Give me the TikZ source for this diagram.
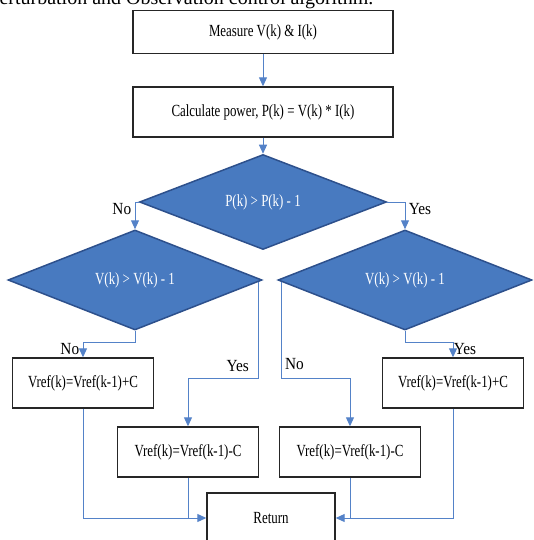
\documentclass[tikz,border=0pt]{standalone}
\usepackage{fontspec}
\setmainfont{Liberation Serif}
\newfontfamily\narrowserif[FakeStretch=0.76]{Liberation Serif}
\newfontfamily\labelserif[FakeStretch=0.9]{Liberation Serif}
\usepackage{xcolor}
\usetikzlibrary{shapes,arrows.meta}
\definecolor{flowblue}{RGB}{84,130,200}
\definecolor{diafill}{RGB}{72,122,192}
\definecolor{diaedge}{RGB}{45,80,140}

\begin{document}
\begin{tikzpicture}[x=1pt,y=-1pt,->,>={Triangle[length=9pt,width=8pt]},line width=1pt,
    box/.style={draw=black!85,line width=1.4pt,fill=white,minimum height=50pt,inner sep=2pt,
        font=\narrowserif\fontsize{17}{20}\selectfont},
    decision/.style={diamond,draw=diaedge,line width=1.5pt,fill=diafill,text=white,inner sep=0pt,
        font=\narrowserif\fontsize{17}{20}\selectfont}]
    \useasboundingbox (0,0) rectangle (533,540);
    \clip (0,0) rectangle (533,540);
    \node[anchor=base west,inner sep=0pt,font=\fontsize{20}{24}\selectfont] (caption) at (-1,5)
        {erturbation and Observation control algorithm.};
    \node[box,minimum width=260pt,minimum height=43pt] (measure) at (263,32) {Measure V(k) \& I(k)};
    \node[box,minimum width=260pt] (power) at (263,112) {Calculate power, P(k) = V(k) * I(k)};
    \node[decision,minimum width=247pt,minimum height=95pt] (pcheck) at (263,202) {P(k) > P(k) - 1};
    \node[decision,minimum width=254pt,minimum height=100pt] (vleft) at (135,280) {V(k) > V(k) - 1};
    \node[decision,minimum width=254pt,minimum height=100pt] (vright) at (405,280) {V(k) > V(k) - 1};
    \node[box,minimum width=141pt] (incl) at (83,383) {Vref(k)=Vref(k-1)+C};
    \node[box,minimum width=141pt] (decl) at (188,452) {Vref(k)=Vref(k-1)-C};
    \node[box,minimum width=141pt] (decr) at (350,452) {Vref(k)=Vref(k-1)-C};
    \node[box,minimum width=141pt] (incr) at (453,383) {Vref(k)=Vref(k-1)+C};
    \node[box,minimum width=128pt] (ret) at (271,518) {Return};
    \tikzstyle{every node}=[font=\labelserif\fontsize{17}{20}\selectfont]
    \draw[flowblue] (measure) -- (power);
    \draw[flowblue] (power) -- (pcheck);
    \draw[flowblue] (pcheck.west) -| node[pos=0.62,left,text=black] {No} (vleft.north);
    \draw[flowblue] (pcheck.east) -| node[pos=0.62,right,text=black] {Yes} (vright.north);
    \draw[flowblue] (vleft.south) -- ++(0,12) -| node[pos=0.5,left,yshift=-6pt,text=black] {No} (incl.north);
    \draw[flowblue] ([xshift=-4pt,yshift=-2pt]vleft.east) -- ++(0,96) node[pos=0.88,left=6pt,text=black] {Yes}
        -| (decl.north);
    \draw[flowblue] ([xshift=4pt,yshift=-2pt]vright.west) -- ++(0,96) node[pos=0.85,right=0pt,text=black] {No}
        -| (decr.north);
    \draw[flowblue] (vright.south) -- ++(0,12) -| node[pos=0.5,right=-3pt,yshift=-6pt,text=black] {Yes} (incr.north);
    \draw[flowblue] (incl.south) |- (ret.west);
    \draw[flowblue,-] (decl.south) -- (decl.south |- ret.west);
    \draw[flowblue] (incr.south) |- (ret.east);
    \draw[flowblue,-] (decr.south) -- (decr.south |- ret.east);
\end{tikzpicture}
\end{document}
